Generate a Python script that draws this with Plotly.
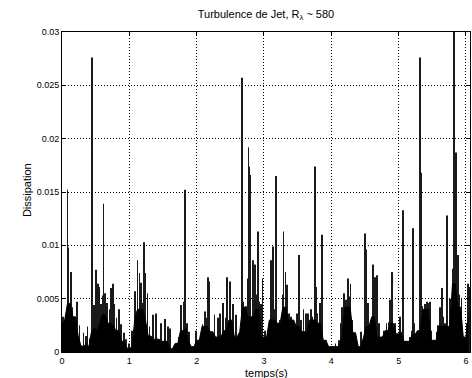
import plotly.graph_objects as go

# ---- data (dissipation, units of 1e-3) ----
floor_step = 0.04  # s, spacing of the dense base level samples
floor_v = [2.5, 3.0, 4.5, 4.5, 3.3, 3.3, 1.5, 0.6, 0.5, 0.8,
           0.5, 2.0, 2.2, 2.0, 2.6, 3.5, 3.5, 2.7, 2.7, 2.5,
           2.0, 2.0, 1.0, 1.0, 0.4, 0.3, 0.5, 3.0, 4.0, 4.0,
           4.0, 3.0, 1.5, 1.5, 1.2, 1.2, 1.2, 1.0, 1.0, 1.0,
           0.3, 0.3, 0.8, 0.8, 2.0, 2.0, 2.2, 1.0, 0.5, 0.5,
           1.1, 1.1, 2.4, 2.4, 2.4, 1.9, 1.9, 1.4, 1.4, 1.4,
           2.0, 2.0, 3.0, 3.0, 1.4, 1.4, 1.9, 4.2, 4.2, 3.3,
           3.3, 3.3, 4.0, 4.0, 1.4, 1.4, 1.4, 3.0, 3.0, 3.0,
           2.7, 2.7, 4.2, 4.2, 3.0, 3.0, 3.0, 2.4, 2.4, 1.9,
           1.9, 1.9, 3.0, 3.0, 3.0, 2.7, 2.7, 1.1, 1.1, 0.5,
           0.5, 0.5, 0.5, 0.5, 1.4, 4.2, 4.2, 4.2, 1.8, 1.8,
           0.5, 0.5, 1.4, 2.4, 2.4, 3.3, 3.3, 1.4, 1.4, 1.4,
           2.0, 2.0, 2.7, 2.7, 1.7, 1.7, 1.7, 1.0, 1.0, 1.0,
           1.6, 1.6, 2.0, 2.0, 4.0, 4.0, 4.0, 1.1, 1.1, 1.1,
           2.4, 2.4, 2.4, 2.4, 2.4, 6.4, 6.4, 4.2, 4.2, 1.4,
           1.4, 3.3]

spike_t = [0.02, 0.05, 0.08, 0.095, 0.11, 0.13, 0.15, 0.18, 0.22, 0.26,
           0.32, 0.36, 0.38, 0.41, 0.45, 0.455, 0.48, 0.50, 0.53, 0.55,
           0.58, 0.60, 0.615, 0.64, 0.67, 0.71, 0.73, 0.76, 0.78, 0.81,
           0.85, 0.88, 0.92, 0.95, 1.00, 1.04, 1.08, 1.12, 1.15, 1.17,
           1.19, 1.215, 1.24, 1.27,
           1.30, 1.35, 1.40, 1.475, 1.525, 1.575, 1.60, 1.67, 1.74, 1.77,
           1.81, 1.83, 1.835, 1.86, 1.89, 1.985, 2.085, 2.12, 2.145, 2.17,
           2.19, 2.267, 2.317, 2.35, 2.39, 2.43, 2.45,
           2.495, 2.535, 2.585, 2.644, 2.673, 2.69, 2.73, 2.757, 2.77, 2.78,
           2.797, 2.832, 2.87, 2.89, 2.916, 2.93, 2.955, 2.98, 3.02, 3.055,
           3.104, 3.13, 3.15, 3.18, 3.23, 3.28, 3.29, 3.32, 3.34, 3.37,
           3.40, 3.426, 3.46, 3.49, 3.515, 3.55, 3.585, 3.624, 3.65, 3.675,
           3.693, 3.72, 3.743, 3.757, 3.77, 3.79, 3.83, 3.857, 3.87, 3.916,
           4.005, 4.064, 4.114, 4.14, 4.163, 4.19, 4.213, 4.24, 4.253, 4.27,
           4.287, 4.31, 4.37, 4.436, 4.46, 4.485, 4.50, 4.51, 4.52, 4.545,
           4.585, 4.62, 4.644, 4.66, 4.683, 4.71, 4.758, 4.783, 4.82, 4.85,
           4.87, 4.90,
           4.946, 5.02, 5.045, 5.07, 5.12, 5.17, 5.19, 5.21, 5.23, 5.28,
           5.31, 5.32, 5.33, 5.35, 5.39, 5.416, 5.44, 5.466, 5.49, 5.54,
           5.565, 5.59, 5.614, 5.64, 5.663, 5.688, 5.723, 5.738, 5.762, 5.787,
           5.81, 5.827, 5.837, 5.85, 5.862, 5.887, 5.90, 5.92, 5.935, 5.96,
           6.01, 6.034, 6.06]

spike_v = [3.3, 2.8, 15.2, 9.8, 4.6, 7.5, 4.2, 3.0, 4.7, 2.5,
           1.8, 1.5, 2.4, 1.3, 27.6, 18.3, 4.4, 7.7, 6.4, 6.1,
           4.5, 5.3, 13.9, 5.5, 4.6, 4.0, 6.0, 6.4, 4.5, 3.2,
           4.0, 2.6, 1.8, 1.2, 0.8, 2.0, 5.7, 8.6, 7.4, 6.5,
           4.6, 10.3, 7.4, 5.5,
           2.4, 3.5, 3.6, 2.7, 3.1, 2.4, 2.2, 0.6, 1.4, 4.4,
           4.7, 15.2, 9.9, 2.7, 1.9, 2.0, 2.6, 3.8, 3.2, 7.0,
           6.6, 3.5, 3.2, 3.6, 4.6, 3.2, 7.0,
           6.6, 4.5, 3.5, 1.1, 25.7, 4.7, 4.3, 6.9, 19.2, 17.4,
           16.6, 8.6, 8.2, 5.4, 11.3, 4.7, 4.5, 6.9, 2.0, 2.0,
           8.6, 9.9, 4.0, 16.5, 3.0, 5.4, 11.3, 7.5, 6.3, 3.6,
           3.3, 2.8, 1.9, 3.6, 9.1, 3.0, 4.0, 3.6, 3.6, 2.7,
           4.0, 3.3, 3.0, 17.4, 6.1, 3.6, 4.6, 11.0, 4.4, 1.1,
           0.5, 0.8, 1.1, 2.7, 4.2, 5.5, 4.9, 6.2, 6.9, 5.2,
           6.4, 3.0, 0.6, 1.9, 1.1, 1.4, 11.1, 9.6, 4.7, 4.6,
           3.0, 8.2, 7.0, 4.6, 7.2, 2.7, 1.1, 2.0, 2.7, 2.8,
           4.9, 7.5,
           2.7, 3.3, 1.9, 13.3, 0.7, 1.4, 2.0, 11.6, 2.7, 2.0,
           2.7, 27.6, 16.8, 4.3, 4.5, 4.7, 4.6, 4.7, 2.0, 1.1,
           1.9, 2.5, 4.2, 6.0, 3.3, 2.7, 12.8, 2.0, 5.0, 3.3,
           7.8, 31.0, 16.0, 18.7, 8.3, 9.1, 5.4, 3.3, 5.0, 0.5,
           2.7, 6.4, 6.1]

y_ticks = [0, 0.005, 0.01, 0.015, 0.02, 0.025, 0.03]
y_tick_text = ["0", "0.005", "0.01", "0.015", "0.02", "0.025", "0.03"]
x_ticks = [0, 1, 2, 3, 4, 5, 6]
x_tick_text = ["0", "1", "2", "3", "4", "5", "6"]

title_text = "Turbulence de Jet, R<sub>λ</sub> ~ 580"
x_label = "temps(s)"
y_label = "Dissipation"

# ---- build figure ----
floor_t = [round(i * floor_step, 3) for i in range(len(floor_v))]
floor_y = [v * 1e-3 for v in floor_v]
spike_y = [v * 1e-3 for v in spike_v]

fig = go.Figure()
fig.add_trace(go.Scatter(x=floor_t, y=floor_y, mode="lines",
                         line=dict(color="black", width=1),
                         fill="tozeroy", fillcolor="black",
                         hoverinfo="skip", showlegend=False))
fig.add_trace(go.Bar(x=spike_t, y=spike_y, width=0.011,
                     marker=dict(color="#1a1a1a", line=dict(width=0)),
                     showlegend=False))

font_family = "Liberation Sans, Arial, Helvetica, sans-serif"
axis_common = dict(showline=True, linecolor="black", linewidth=1, mirror="ticks",
                   ticks="inside", ticklen=4, tickcolor="black",
                   showgrid=True, gridcolor="black", gridwidth=1, griddash="1px,2px",
                   zeroline=False, tickfont=dict(family=font_family, size=9, color="black"))

fig.update_layout(
    width=472, height=378,
    margin=dict(l=62, r=2, t=32, b=26),
    paper_bgcolor="white", plot_bgcolor="white",
    barmode="overlay",
    font=dict(family=font_family, color="black"),
    title=dict(text=title_text, x=0.5, xref="paper", xanchor="center",
               y=1 - 14 / 378, yref="container", yanchor="middle",
               font=dict(family=font_family, size=11, color="black")),
    xaxis=dict(range=[0, 6.06], tickvals=x_ticks, ticktext=x_tick_text, **axis_common),
    yaxis=dict(range=[0, 0.03], tickvals=y_ticks, ticktext=y_tick_text, **axis_common),
    annotations=[
        dict(text=x_label, xref="paper", yref="paper", x=0.5, y=-21 / 320,
             xanchor="center", yanchor="middle", showarrow=False,
             font=dict(family=font_family, size=11, color="black")),
        dict(text=y_label, xref="paper", yref="paper", x=-35 / 408, y=0.506,
             xanchor="center", yanchor="middle", textangle=-90, showarrow=False,
             font=dict(family=font_family, size=11, color="black")),
    ],
)

fig.write_html("out.html")
